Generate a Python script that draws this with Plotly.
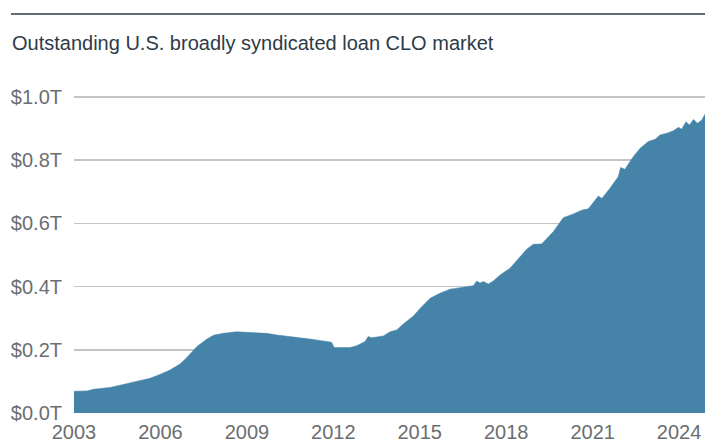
import plotly.graph_objects as go

# Decimal-year positions and outstanding CLO market size (US$ trillions)
dates = [2003.00, 2003.44, 2003.67, 2004.25, 2004.60, 2005.18, 2005.64, 2005.98,
         2006.33, 2006.68, 2006.91, 2007.26, 2007.60, 2007.84, 2008.18, 2008.65,
         2009.10, 2009.69, 2010.04, 2010.78, 2011.19, 2011.42, 2011.94, 2012.03,
         2012.58, 2012.81, 2013.10, 2013.21, 2013.33, 2013.74, 2013.97, 2014.20,
         2014.43, 2014.78, 2015.01, 2015.36, 2015.70, 2016.05, 2016.40, 2016.86,
         2016.98, 2017.09, 2017.21, 2017.38, 2017.55, 2017.79, 2018.13, 2018.48,
         2018.71, 2018.94, 2019.23, 2019.64, 2019.98, 2020.33, 2020.62, 2020.85,
         2021.08, 2021.20, 2021.32, 2021.60, 2021.89, 2021.97, 2022.12, 2022.41,
         2022.65, 2022.93, 2023.17, 2023.34, 2023.57, 2023.80, 2023.98, 2024.09,
         2024.24, 2024.36, 2024.50, 2024.64, 2024.79, 2024.90]
values = [0.069, 0.070, 0.075, 0.081, 0.088, 0.099, 0.110, 0.122,
          0.136, 0.155, 0.175, 0.210, 0.233, 0.246, 0.252, 0.257,
          0.255, 0.252, 0.247, 0.240, 0.234, 0.231, 0.224, 0.207,
          0.207, 0.213, 0.226, 0.242, 0.238, 0.244, 0.257, 0.263,
          0.282, 0.307, 0.331, 0.363, 0.379, 0.392, 0.397, 0.403,
          0.418, 0.411, 0.416, 0.408, 0.418, 0.437, 0.458, 0.495,
          0.518, 0.534, 0.535, 0.574, 0.618, 0.630, 0.642, 0.646,
          0.671, 0.687, 0.679, 0.711, 0.748, 0.777, 0.771, 0.811,
          0.838, 0.859, 0.866, 0.880, 0.885, 0.893, 0.904, 0.898,
          0.922, 0.911, 0.929, 0.917, 0.927, 0.946]

x_ticks = [2003, 2006, 2009, 2012, 2015, 2018, 2021, 2024]
x_tick_labels = ["2003", "2006", "2009", "2012", "2015", "2018", "2021", "2024"]
y_ticks = [0.0, 0.2, 0.4, 0.6, 0.8, 1.0]
y_tick_labels = ["$0.0T", "$0.2T", "$0.4T", "$0.6T", "$0.8T", "$1.0T"]

title_text = "Outstanding U.S. broadly syndicated loan CLO market"

AREA = "#4583a8"
TICK = "#6b6e71"
DARK = "#2d3b48"
FONT = "Liberation Sans, Arial, sans-serif"

fig = go.Figure()
fig.add_trace(go.Scatter(
    x=dates, y=values, mode="lines", fill="tozeroy",
    line=dict(color=AREA, width=0.5), fillcolor=AREA,
    hoverinfo="skip", showlegend=False,
))

W, H = 705, 444
L, R, T, B = 74, 0, 95, 30
pw, ph = W - L - R, H - T - B
Y_MAX = 1.0 + 2.0 / 316 * 1.0  # tiny headroom so the $1.0T gridline is drawn

fig.update_layout(
    width=W, height=H,
    margin=dict(l=L, r=R, t=T, b=B),
    paper_bgcolor="white", plot_bgcolor="white",
    font=dict(family=FONT, color=TICK),
    title=dict(
        text=title_text, xref="container", yref="container",
        x=12 / W, y=1 - 43 / H, xanchor="left", yanchor="middle",
        font=dict(family=FONT, size=20, color=DARK),
    ),
    xaxis=dict(
        range=[2003, 2024.9], tickmode="array", tickvals=x_ticks,
        ticktext=x_tick_labels, showgrid=False, zeroline=False,
        showline=False, ticks="", tickfont=dict(size=20, color=TICK),
        ticklabelstandoff=4, fixedrange=True,
    ),
    yaxis=dict(
        range=[-1.0 / 316, Y_MAX], tickmode="array", tickvals=y_ticks,
        ticktext=y_tick_labels, showgrid=True, gridcolor="#c4c4c4",
        gridwidth=1.5, zeroline=False, showline=False, ticks="",
        tickfont=dict(size=20, color=TICK), ticklabelstandoff=11,
        fixedrange=True,
    ),
    shapes=[dict(
        type="line", xref="paper", yref="paper",
        x0=(11 - L) / pw, x1=1.0, y0=(H - B - 14) / ph, y1=(H - B - 14) / ph,
        line=dict(color=DARK, width=1.5),
    )],
)

fig.write_html(
    "out.html",
    config={"displayModeBar": False, "staticPlot": True},
    post_script="document.body.style.margin='0';document.body.style.overflow='hidden';",
)
